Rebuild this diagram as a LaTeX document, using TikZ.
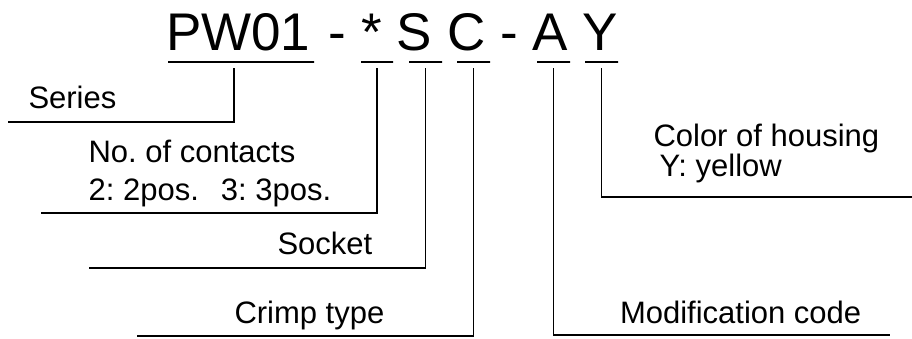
\documentclass[tikz,border=0pt]{standalone}
\usepackage{fontspec}
\setmainfont{Liberation Sans}
\usepackage{tikz}
\newcommand{\codefont}{\fontsize{53}{60}\selectfont}
\newcommand{\descfont}{\fontsize{31}{38}\selectfont}
\tikzstyle{code}=[inner sep=0, outer sep=0, anchor=base, font=\codefont]
\tikzstyle{codebar}=[draw, inner sep=0, outer sep=0, minimum height=0pt, minimum width=33pt]
\tikzstyle{desc}=[inner sep=0, outer sep=0, anchor=base west, align=left, font=\descfont]
\tikzstyle{leader}=[shorten <=6pt]
\tikzstyle{partnumber}=[x=1pt, y=-1pt, line width=1.5pt]

\begin{document}
\frenchspacing
\begin{tikzpicture}[partnumber]
        \useasboundingbox (0, 0) rectangle (912, 338);
        % Part number, one node per field
        \node[code, anchor=base west] (PW)    at (166, 50)   {PW01};
        \node[code]                   (dash1) at (337.5, 50) {-};
        \node[code]                   (pos)   at (372, 50)   {*};
        \node[code]                   (S)     at (414.5, 50) {S};
        \node[code]                   (C)     at (466.5, 50) {C};
        \node[code]                   (dash2) at (509.5, 50) {-};
        \node[code]                   (A)     at (550.5, 50) {A};
        \node[code]                   (Y)     at (600, 50)   {Y};
        \node[codebar, minimum width=146pt] (PWbar) at (241, 62)   {};
        \node[codebar, minimum width=32pt]  (posbar) at (377, 62)  {};
        \node[codebar]                      (Sbar) at (425.5, 62)  {};
        \node[codebar]                      (Cbar) at (473.5, 62)  {};
        \node[codebar]                      (Abar) at (553.5, 62)  {};
        \node[codebar]                      (Ybar) at (601.5, 62)  {};
        % Descriptions (base is the last line)
        \node[desc] (series)   at (28.5, 108) {Series};
        \node[desc] (contacts) at (88.6, 200) {No. of contacts\\2: 2pos.\hspace{22pt}3: 3pos.};
        \node[desc] (socket)   at (277.5, 254) {Socket};
        \node[desc] (crimp)    at (234.5, 323) {Crimp type};
        \node[desc] (modcode)  at (620, 323) {Modification code};
        \node[desc, font=\fontsize{31}{25}\selectfont] (color) at (653.5, 176) {Color of housing\\\hspace*{6pt}Y: yellow};
        \coordinate (seriesend)   at (8, 122);
        \coordinate (contactsend) at (41, 213);
        \coordinate (socketend)   at (89, 268);
        \coordinate (crimpend)    at (137, 336);
        \coordinate (modcodeend)  at (890, 335);
        \coordinate (colorend)    at (912, 197);
        \draw[leader] ([xshift=-7pt]PWbar.south) |- (seriesend);
        \draw[leader] (posbar.south) |- (contactsend);
        \draw[leader] (Sbar.south) |- (socketend);
        \draw[leader] (Cbar.south) |- (crimpend);
        \draw[leader] (Abar.south) |- (modcodeend);
        \draw[leader] (Ybar.south) |- (colorend);
\end{tikzpicture}
\end{document}
